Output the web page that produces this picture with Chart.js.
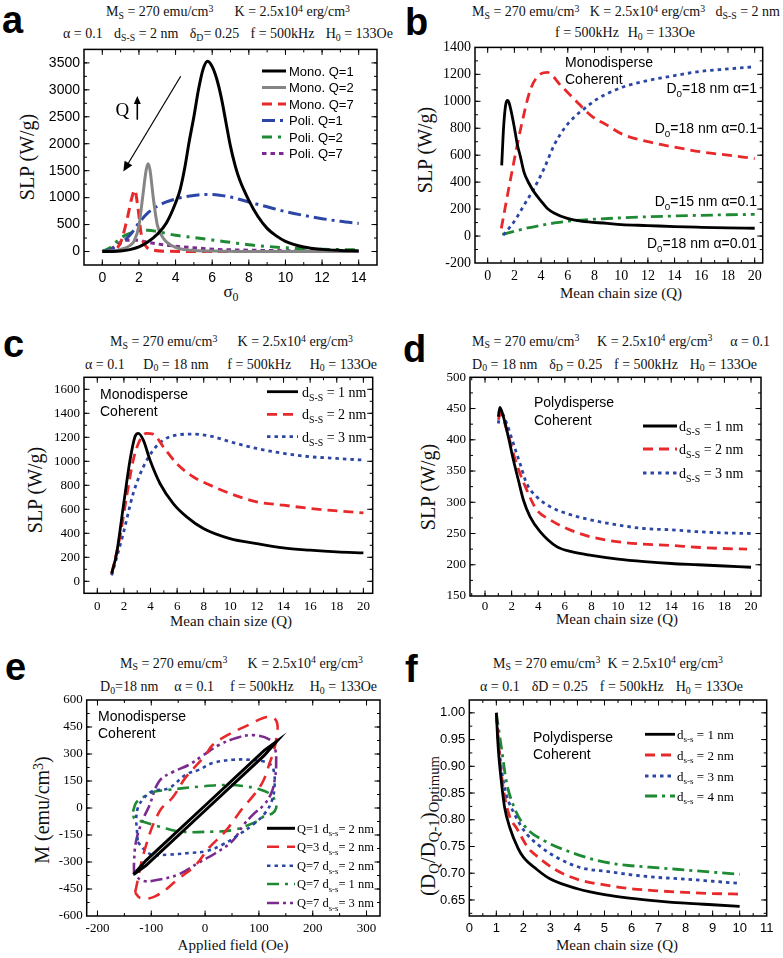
<!DOCTYPE html>
<html>
<head>
<meta charset="utf-8">
<script src="https://cdn.jsdelivr.net/npm/chart.js@4.4.1/dist/chart.umd.min.js"></script>
<style>
html, body { margin: 0; padding: 0; background: #fff; }
#page { position: relative; width: 783px; height: 958px; overflow: hidden; background: #fff; }
#page canvas { position: absolute; }
.t { position: absolute; font-family: 'Liberation Serif', 'Times New Roman', serif; font-size: 14px; line-height: 14px;
     white-space: nowrap; display: flex; justify-content: space-between; color: #111; }
.lt { position: absolute; font-family: 'Liberation Sans', Arial, sans-serif; font-weight: bold; font-size: 38px; line-height: 38px; color: #000; }
.ax { position: absolute; font-family: 'Liberation Serif', 'Times New Roman', serif; font-size: 15px; line-height: 15px;
      white-space: nowrap; transform: translate(-50%, -50%); color: #111; }
.ax.v { font-size: 20px; line-height: 20px; transform: translate(-50%, -50%) rotate(-90deg); }
sub, sup { font-size: 70%; line-height: 0; position: relative; vertical-align: baseline; }
sub { top: .3em; }
sup { top: -.45em; }
</style>
</head>
<body>
<div id="page">
  <!-- panel letters -->
  <div class="lt" style="left:2px;top:1px">a</div>
  <div class="lt" style="left:405px;top:3px">b</div>
  <div class="lt" style="left:3px;top:325px">c</div>
  <div class="lt" style="left:403px;top:330px">d</div>
  <div class="lt" style="left:5px;top:648px">e</div>
  <div class="lt" style="left:405px;top:650px">f</div>

  <!-- parameter lines above each panel -->
  <div class="t" style="left:106px;top:5px;width:244px"><span>M<sub>S</sub> = 270 emu/cm<sup>3</sup></span><span>K = 2.5x10<sup>4</sup> erg/cm<sup>3</sup></span></div>
  <div class="t" style="left:63px;top:27px;width:330px"><span>α = 0.1</span><span>d<sub>S-S</sub> = 2 nm</span><span>δ<sub>D</sub>= 0.25</span><span>f = 500kHz</span><span>H<sub>0</sub> = 133Oe</span></div>

  <div class="t" style="left:472px;top:5px;width:308px"><span>M<sub>S</sub> = 270 emu/cm<sup>3</sup></span><span>K = 2.5x10<sup>4</sup> erg/cm<sup>3</sup></span><span>d<sub>S-S</sub> = 2 nm</span></div>
  <div class="t" style="left:555px;top:26px;width:140px"><span>f = 500kHz</span><span>H<sub>0</sub> = 133Oe</span></div>

  <div class="t" style="left:110px;top:335px;width:243px"><span>M<sub>S</sub> = 270 emu/cm<sup>3</sup></span><span>K = 2.5x10<sup>4</sup> erg/cm<sup>3</sup></span></div>
  <div class="t" style="left:85px;top:357.5px;width:292px"><span>α = 0.1</span><span>D<sub>0</sub> = 18 nm</span><span>f = 500kHz</span><span>H<sub>0</sub> = 133Oe</span></div>

  <div class="t" style="left:472px;top:334.5px;width:298px"><span>M<sub>S</sub> = 270 emu/cm<sup>3</sup></span><span>K = 2.5x10<sup>4</sup> erg/cm<sup>3</sup></span><span>α = 0.1</span></div>
  <div class="t" style="left:472px;top:357.5px;width:285px"><span>D<sub>0</sub> = 18 nm</span><span>δ<sub>D</sub> = 0.25</span><span>f = 500kHz</span><span>H<sub>0</sub> = 133Oe</span></div>

  <div class="t" style="left:120px;top:656.5px;width:243px"><span>M<sub>S</sub> = 270 emu/cm<sup>3</sup></span><span>K = 2.5x10<sup>4</sup> erg/cm<sup>3</sup></span></div>
  <div class="t" style="left:100px;top:680px;width:277px"><span>D<sub>0</sub>=18 nm</span><span>α = 0.1</span><span>f = 500kHz</span><span>H<sub>0</sub> = 133Oe</span></div>

  <div class="t" style="left:493px;top:656.5px;width:230px"><span>M<sub>S</sub> = 270 emu/cm<sup>3</sup></span><span>K = 2.5x10<sup>4</sup> erg/cm<sup>3</sup></span></div>
  <div class="t" style="left:480px;top:680px;width:263px"><span>α = 0.1</span><span>δD = 0.25</span><span>f = 500kHz</span><span>H<sub>0</sub> = 133Oe</span></div>

  <!-- axis titles -->
  <div class="ax v" style="left:27px;top:157px">SLP (W/g)</div>
  <div class="ax" style="left:231px;top:291px;font-size:17px">σ<sub>0</sub></div>
  <div class="ax v" style="left:425px;top:150px">SLP (W/g)</div>
  <div class="ax" style="left:621px;top:293px">Mean chain size (Q)</div>
  <div class="ax v" style="left:35px;top:490px">SLP (W/g)</div>
  <div class="ax" style="left:231px;top:621px">Mean chain size (Q)</div>
  <div class="ax v" style="left:428px;top:487px">SLP (W/g)</div>
  <div class="ax" style="left:617px;top:619px">Mean chain size (Q)</div>
  <div class="ax v" style="left:42px;top:810px">M (emu/cm<sup>3</sup>)</div>
  <div class="ax" style="left:233px;top:945px">Applied field (Oe)</div>
  <div class="ax v" style="left:428px;top:826px;font-size:21px">(D<sub>Q</sub>/D<sub>Q-1</sub>)<sub>Optimum</sub></div>
  <div class="ax" style="left:617px;top:945px">Mean chain size (Q)</div>
</div>

<script>
// ---------- panel a : SLP vs sigma0 ----------
const aSigmaM1 = [0, 0.5, 1, 1.5, 2, 2.5, 3, 3.5, 4, 4.25, 4.5, 4.75, 5, 5.25, 5.5, 5.75, 6, 6.25, 6.5, 6.75, 7, 7.25, 7.5, 8, 8.5, 9, 9.5, 10, 11, 12, 13, 14];
const aMonoQ1  = [0, 2, 10, 35, 85, 180, 320, 530, 900, 1150, 1550, 2050, 2500, 3000, 3380, 3530, 3430, 3200, 2850, 2400, 1950, 1600, 1330, 950, 650, 430, 290, 190, 85, 40, 20, 10];
const aSigmaM2 = [0, 0.5, 1, 1.5, 1.75, 2, 2.2, 2.4, 2.5, 2.6, 2.8, 3, 3.25, 3.5, 4, 4.5, 5, 6, 8, 10, 14];
const aMonoQ2  = [0, 8, 40, 110, 200, 480, 1000, 1520, 1630, 1520, 950, 500, 290, 180, 75, 35, 20, 8, 2, 0, 0];
const aSigmaM7 = [0, 0.5, 0.8, 1, 1.13, 1.4, 1.6, 1.77, 1.95, 2.13, 2.4, 2.8, 3.5, 5, 8, 14];
const aMonoQ7  = [0, 10, 60, 170, 300, 670, 980, 1140, 800, 310, 90, 25, 5, 0, 0, 0];
const aSigmaP1 = [0, 0.5, 0.77, 1, 1.5, 2, 2.5, 3, 3.5, 4, 4.5, 5, 5.7, 6.4, 7, 8, 9, 10, 11, 12, 13, 14];
const aPoliQ1  = [0, 40, 86, 150, 300, 530, 720, 840, 920, 975, 1015, 1040, 1060, 1045, 1010, 920, 830, 740, 670, 610, 560, 520];
const aSigmaP2 = [0, 0.5, 0.77, 1, 1.5, 2, 2.5, 3, 3.5, 4, 5, 6, 7, 8, 9, 10, 11, 12, 13, 14];
const aPoliQ2  = [0, 90, 180, 250, 335, 390, 395, 370, 335, 300, 260, 215, 170, 125, 95, 70, 55, 42, 35, 30];
const aSigmaP7 = [0, 0.5, 0.77, 1, 1.3, 1.86, 2.5, 3.5, 4.4, 5, 6.2, 8, 10, 12, 14];
const aPoliQ7  = [0, 60, 117, 170, 210, 210, 170, 117, 86, 70, 40, 25, 15, 10, 8];
const aXTicks = [0, 2, 4, 6, 8, 10, 12, 14];
const aYTicks = [0, 500, 1000, 1500, 2000, 2500, 3000, 3500];

// ---------- panel b : SLP vs Q, monodisperse ----------
const bQa001   = [1.05, 1.2, 1.35, 1.5, 1.6, 1.72, 1.97, 2.22, 2.45, 2.72, 3.1, 3.47, 4, 4.47, 5, 5.97, 7, 8.97, 10, 12, 14, 16, 18, 20];
const bSlpa001 = [525, 820, 975, 1006, 990, 944, 821, 680, 590, 475, 390, 328, 260, 205, 170, 131, 110, 94, 85, 78, 70, 65, 61, 58];
const bQa01    = [1.02, 1.72, 2.47, 3.22, 3.97, 4.47, 5.47, 6.47, 7.72, 8.97, 10, 12, 14, 16, 18, 20];
const bSlpa01  = [57, 427, 796, 1092, 1203, 1215, 1117, 1018, 895, 821, 760, 700, 660, 625, 600, 575];
const bQa1     = [1.17, 1.97, 2.72, 3.47, 4.22, 4.97, 5.72, 6.47, 7.22, 8.22, 9.47, 10.47, 12, 14, 16, 18, 20];
const bSlpa1   = [7, 106, 229, 353, 500, 673, 796, 882, 944, 1018, 1080, 1117, 1154, 1191, 1223, 1240, 1257];
const bQd15    = [1.1, 2, 3, 4, 5, 6, 8, 10, 12, 14, 16, 18, 20];
const bSlpd15  = [12, 35, 60, 80, 97, 110, 125, 135, 143, 149, 154, 158, 161];
const bXTicks = [0, 2, 4, 6, 8, 10, 12, 14, 16, 18, 20];
const bYTicks = [-200, 0, 200, 400, 600, 800, 1000, 1200, 1400];

// ---------- panel c : SLP vs Q, monodisperse, d_S-S ----------
const cQ1   = [1.08, 1.45, 1.95, 2.46, 2.83, 3.08, 3.46, 3.96, 4.71, 5.71, 6.72, 7.97, 9.97, 11.98, 13.98, 15.99, 18, 20];
const cSlp1 = [64, 231, 620, 1010, 1205, 1233, 1177, 1010, 815, 648, 537, 440, 356, 314, 278, 259, 245, 237];
const cQ2   = [1.08, 1.7, 2.2, 2.7, 3.2, 3.71, 4.2, 4.96, 5.97, 7.2, 8.2, 9.97, 11.98, 14, 16, 18, 20];
const cSlp2 = [64, 370, 704, 1010, 1177, 1233, 1227, 1121, 982, 871, 815, 732, 662, 634, 607, 587, 570];
const cQ3   = [1.08, 1.95, 2.7, 3.46, 4.2, 4.96, 5.97, 7.2, 8.7, 9.97, 11.98, 14, 16, 18, 20];
const cSlp3 = [50, 398, 732, 954, 1093, 1177, 1219, 1227, 1205, 1163, 1107, 1066, 1038, 1024, 1010];
const cXTicks = [0, 2, 4, 6, 8, 10, 12, 14, 16, 18, 20];
const cYTicks = [0, 200, 400, 600, 800, 1000, 1200, 1400, 1600];

// ---------- panel d : SLP vs Q, polydisperse ----------
const dQ1   = [1, 1.12, 1.38, 1.75, 2.13, 2.5, 2.88, 3.38, 4.14, 5.39, 6.5, 8, 10, 12, 14, 16, 18, 20];
const dSlp1 = [437, 452, 437, 405, 368, 336, 304, 277, 253, 229, 221, 215, 209, 205, 202, 200, 198, 196];
const dQ2   = [1, 1.15, 1.63, 2.13, 2.63, 3.13, 3.88, 4.89, 6.14, 7.89, 9.9, 11.9, 13.9, 15.9, 17.9, 19.7];
const dSlp2 = [432, 442, 416, 378, 346, 320, 288, 272, 258, 245, 237, 233, 231, 228, 226, 225];
const dQ3   = [1, 1.15, 1.63, 2.13, 2.63, 3.13, 3.88, 4.89, 6.14, 7.89, 9.9, 11.9, 13.9, 15.9, 17.9, 20];
const dSlp3 = [426, 445, 426, 394, 362, 330, 309, 293, 282, 272, 264, 258, 256, 253, 251, 250];
const dXTicks = [0, 2, 4, 6, 8, 10, 12, 14, 16, 18, 20];
const dYTicks = [150, 200, 250, 300, 350, 400, 450, 500];

// ---------- panel e : hysteresis loops ----------
const eH_Q1d2 = [-133, -110, 0, 110, 133, 110, 0, -110, -133];
const eM_Q1d2 = [-370, -292, 14, 320, 370, 292, -14, -320, -370];
const eH_Q3d2 = [-130, -112, -85, -60, -36, 0, 14, 45, 83, 108, 125, 134, 133, 128, 120, 108, 90, 70, 38, 7, -17, -48, -92, -120, -130];
const eM_Q3d2 = [-470, -230, -20, 60, 170, 290, 350, 410, 465, 500, 505, 470, 400, 320, 250, 150, 70, 0, -128, -222, -315, -390, -490, -500, -470];
const eH_Q7d2 = [-125, -110, -98, -67, -30, 1, 32, 64, 90, 111, 124, 129, 128, 122, 107, 83, 52, 14, -11, -36, -67, -98, -115, -125, -128, -127, -125];
const eM_Q7d2 = [-190, -240, -259, -259, -250, -240, -204, -145, -90, -30, 40, 120, 200, 240, 260, 268, 268, 250, 213, 185, 111, 93, 50, 0, -60, -110, -190];
const eH_Q7d1 = [-134, -128, -115, -95, -70, -10, 40, 70, 100, 120, 130, 132, 125, 110, 95, 52, 15, -47, -84, -115, -131, -134];
const eM_Q7d1 = [-20, 30, 60, 90, 100, 119, 128, 122, 105, 80, 40, 0, -30, -45, -76, -122, -131, -131, -104, -76, -60, -20];
const eH_Q7d3 = [-132, -132, -128, -115, -104, -85, -60, -30, -5, 26, 58, 89, 120, 130, 132, 130, 124, 110, 89, 70, 52, 20, -10, -50, -90, -115, -132];
const eM_Q7d3 = [-370, -300, -180, -60, 10, 150, 200, 240, 290, 350, 389, 405, 380, 330, 240, 170, 90, 20, -37, -100, -180, -250, -300, -370, -400, -405, -370];
const eXTicks = [-200, -100, 0, 100, 200, 300];
const eYTicks = [-600, -450, -300, -150, 0, 150, 300, 450, 600];

// ---------- panel f : optimum diameter ratio ----------
const fQ1 = [1, 1.05, 1.1, 1.2, 1.3, 1.5, 1.8, 2, 2.5, 3, 4, 5, 6, 7, 8, 9, 10];
const fR1 = [1.0, 0.95, 0.915, 0.865, 0.825, 0.785, 0.747, 0.73, 0.707, 0.689, 0.671, 0.66, 0.653, 0.648, 0.644, 0.641, 0.638];
const fQ2 = [1, 1.1, 1.2, 1.34, 1.5, 1.74, 2.18, 2.43, 3.17, 4.03, 4.9, 6, 7, 8, 9, 10];
const fR2 = [1.0, 0.93, 0.88, 0.835, 0.805, 0.785, 0.747, 0.735, 0.707, 0.688, 0.679, 0.671, 0.667, 0.664, 0.662, 0.661];
const fQ3 = [1, 1.1, 1.2, 1.37, 1.68, 2.05, 2.55, 3.29, 4.15, 5.14, 6, 7, 8, 9, 10];
const fR3 = [1.0, 0.935, 0.89, 0.847, 0.81, 0.778, 0.753, 0.728, 0.71, 0.703, 0.697, 0.692, 0.689, 0.685, 0.681];
const fQ4 = [1, 1.19, 1.37, 1.62, 2.05, 2.8, 3.66, 4.65, 5.45, 6, 7, 8, 9, 10];
const fR4 = [1.0, 0.934, 0.872, 0.828, 0.788, 0.76, 0.741, 0.725, 0.717, 0.714, 0.71, 0.706, 0.702, 0.698];
const fXTicks = [0, 1, 2, 3, 4, 5, 6, 7, 8, 9, 10, 11];
const fYTicks = [0.65, 0.70, 0.75, 0.80, 0.85, 0.90, 0.95, 1.00];

// ---------- styles ----------
const SANS = "'Liberation Sans', Arial, sans-serif";
const SERIF = "'Liberation Serif', 'Times New Roman', serif";
const BLACK = '#000000', GRAY = '#858585', RED = '#e8292b', BLUE = '#2c46a6', GREEN = '#1f8a34', PURPLE = '#7b2a8e';
const DASH = [10, 6], DOT = [3.5, 4], DASHDOT = [13, 5, 3, 5], SHORT = [4.5, 4], DASHDOTDOT = [12, 4, 3, 4, 3, 4];

// page-pixel placement of each canvas and of its plot box
const LAYOUT = {
    a: { canvas: [30, 37, 362, 253], area: [84, 49, 377, 265] },
    b: { canvas: [432, 35, 346, 253], area: [475, 46.7, 762.7, 263] },
    c: { canvas: [40, 365, 348, 253], area: [84, 377.3, 372.7, 593.3] },
    d: { canvas: [430, 365, 348, 255], area: [470, 377.3, 761, 596] },
    e: { canvas: [40, 688, 352, 252], area: [86.7, 700, 380, 916] },
    f: { canvas: [425, 688, 356, 252], area: [469.3, 700, 766.7, 916] }
};

function series(xs, ys, color, dash, width, extra) {
    return Object.assign({
        data: xs.map((x, i) => ({ x: x, y: ys[i] })),
        borderColor: color,
        borderDash: dash,
        borderWidth: width || 2.8,
        pointRadius: 0,
        fill: false,
        cubicInterpolationMode: 'monotone'
    }, extra || {});
}

// text with sub/superscript pieces: parts = ['d', ['S-S','sub'], ' = 1 nm']
function drawRich(ctx, parts, x, y, size, family, align) {
    const segs = parts.map(p => Array.isArray(p) ? { t: p[0], k: p[1] } : { t: p, k: '' });
    let w = 0;
    segs.forEach(s => {
        s.f = (s.k ? size * 0.7 : size) + 'px ' + family;
        ctx.font = s.f;
        s.w = ctx.measureText(s.t).width;
        w += s.w;
    });
    let cx = align === 'right' ? x - w : (align === 'center' ? x - w / 2 : x);
    ctx.textAlign = 'left';
    ctx.textBaseline = 'alphabetic';
    segs.forEach(s => {
        ctx.font = s.f;
        const dy = s.k === 'sub' ? size * 0.28 : (s.k === 'sup' ? -size * 0.4 : 0);
        ctx.fillText(s.t, cx, y + dy);
        cx += s.w;
    });
}

function stepValues(scale, step) {
    const out = [];
    for (let v = Math.ceil(scale.min / step - 1e-9) * step; v <= scale.max + 1e-9; v += step) out.push(+v.toFixed(6));
    return out;
}

// frame, inward ticks on all sides, legend, notes, arrows
const decoPlugin = {
    id: 'deco',
    afterDatasetsDraw(chart, args, o) {
        const ctx = chart.ctx, a = chart.chartArea;
        const sx = chart.scales.x, sy = chart.scales.y;
        const ox = o.offset[0], oy = o.offset[1];
        ctx.save();
        ctx.setLineDash([]);
        ctx.strokeStyle = '#000';
        ctx.fillStyle = '#000';
        ctx.lineWidth = 1;
        ctx.beginPath();
        const xm = (vals, len) => vals.forEach(v => {
            const p = sx.getPixelForValue(v);
            if (p < a.left + 1 || p > a.right - 1) return;
            ctx.moveTo(p, a.bottom); ctx.lineTo(p, a.bottom - len);
            ctx.moveTo(p, a.top); ctx.lineTo(p, a.top + len);
        });
        const ym = (vals, len) => vals.forEach(v => {
            const p = sy.getPixelForValue(v);
            if (p < a.top + 1 || p > a.bottom - 1) return;
            ctx.moveTo(a.left, p); ctx.lineTo(a.left + len, p);
            ctx.moveTo(a.right, p); ctx.lineTo(a.right - len, p);
        });
        xm(stepValues(sx, o.xMinor), 3);
        ym(stepValues(sy, o.yMinor), 3);
        xm(sx.ticks.map(t => t.value), 5.5);
        ym(sy.ticks.map(t => t.value), 5.5);
        ctx.stroke();
        ctx.lineWidth = 1.5;
        ctx.strokeRect(a.left, a.top, a.right - a.left, a.bottom - a.top);

        if (o.legend) {
            const L = o.legend;
            L.rows.forEach(r => {
                const ds = chart.data.datasets[r.ds];
                const y = r.y - oy;
                ctx.strokeStyle = ds.borderColor;
                ctx.lineWidth = ds.borderWidth;
                ctx.setLineDash(ds.borderDash || []);
                ctx.beginPath();
                ctx.moveTo(L.x0 - ox, y);
                ctx.lineTo(L.x1 - ox, y);
                ctx.stroke();
                ctx.setLineDash([]);
                ctx.fillStyle = '#000';
                drawRich(ctx, r.parts, L.tx - ox, y + L.size * 0.35, L.size, L.family, 'left');
            });
        }
        (o.notes || []).forEach(n => {
            ctx.fillStyle = '#000';
            drawRich(ctx, n.parts, n.x - ox, n.y - oy, n.size, n.family, n.align);
        });
        (o.arrows || []).forEach(ar => {
            const x0 = ar.x0 - ox, y0 = ar.y0 - oy, x1 = ar.x1 - ox, y1 = ar.y1 - oy;
            const ang = Math.atan2(y1 - y0, x1 - x0);
            ctx.strokeStyle = '#000';
            ctx.lineWidth = ar.w;
            ctx.setLineDash([]);
            ctx.beginPath();
            ctx.moveTo(x0, y0);
            ctx.lineTo(x1 - Math.cos(ang) * ar.head * 0.8, y1 - Math.sin(ang) * ar.head * 0.8);
            ctx.stroke();
            ctx.beginPath();
            ctx.moveTo(x1, y1);
            ctx.lineTo(x1 - Math.cos(ang) * ar.head + Math.sin(ang) * ar.half, y1 - Math.sin(ang) * ar.head - Math.cos(ang) * ar.half);
            ctx.lineTo(x1 - Math.cos(ang) * ar.head - Math.sin(ang) * ar.half, y1 - Math.sin(ang) * ar.head + Math.cos(ang) * ar.half);
            ctx.closePath();
            ctx.fill();
        });
        ctx.restore();
    }
};

function axis(s, dir, size) {
    return {
        type: 'linear',
        min: s.min,
        max: s.max,
        grid: { display: false, drawTicks: false },
        border: { display: false },
        ticks: {
            autoSkip: false,
            maxRotation: 0,
            padding: s.pad !== undefined ? s.pad : (dir === 'x' ? 5 : 4),
            color: '#000',
            font: s.font,
            callback: s.fmt || (v => String(v))
        },
        afterBuildTicks: sc => { sc.ticks = s.ticks.map(v => ({ value: v })); },
        afterFit: sc => { if (dir === 'x') sc.height = size; else sc.width = size; }
    };
}

function makeChart(key, datasets, sx, sy, deco) {
    const L = LAYOUT[key];
    const cl = L.canvas[0], ct = L.canvas[1], cw = L.canvas[2], ch = L.canvas[3];
    const al = L.area[0], at = L.area[1], ar = L.area[2], ab = L.area[3];
    const cv = document.createElement('canvas');
    cv.width = cw;
    cv.height = ch;
    cv.style.left = cl + 'px';
    cv.style.top = ct + 'px';
    document.getElementById('page').appendChild(cv);
    return new Chart(cv.getContext('2d'), {
        type: 'line',
        data: { datasets: datasets },
        options: {
            responsive: false,
            animation: false,
            devicePixelRatio: 1,
            layout: { padding: { left: 0, top: at - ct, right: cl + cw - ar, bottom: 0 } },
            plugins: {
                legend: { display: false },
                tooltip: { enabled: false },
                deco: Object.assign({ offset: [cl, ct] }, deco)
            },
            elements: { point: { radius: 0 }, line: { borderCapStyle: 'butt' } },
            scales: {
                x: axis(sx, 'x', ct + ch - ab),
                y: axis(sy, 'y', al - cl)
            }
        },
        plugins: [decoPlugin]
    });
}

const sansTick = { family: SANS, size: 13 };
const serifTick = { family: SERIF, size: 13 };

// ---- a ----
makeChart('a', [
    series(aSigmaM1, aMonoQ1, BLACK, [], 3),
    series(aSigmaM2, aMonoQ2, GRAY, [], 3),
    series(aSigmaM7, aMonoQ7, RED, DASH, 3),
    series(aSigmaP1, aPoliQ1, BLUE, DASHDOT, 3),
    series(aSigmaP2, aPoliQ2, GREEN, [10, 6, 3, 6], 3),
    series(aSigmaP7, aPoliQ7, PURPLE, SHORT, 3)
], { min: -1, max: 15, ticks: aXTicks, font: { family: SANS, size: 14 } },
   { min: -250, max: 3750, ticks: aYTicks, font: { family: SANS, size: 14 } },
   {
       xMinor: 1, yMinor: 250,
       legend: {
           x0: 262, x1: 286, tx: 289, size: 13, family: SANS,
           rows: [
               { y: 71, ds: 0, parts: ['Mono. Q=1'] },
               { y: 87.5, ds: 1, parts: ['Mono. Q=2'] },
               { y: 104, ds: 2, parts: ['Mono. Q=7'] },
               { y: 120.5, ds: 3, parts: ['Poli. Q=1'] },
               { y: 137, ds: 4, parts: ['Poli. Q=2'] },
               { y: 153.5, ds: 5, parts: ['Poli. Q=7'] }
           ]
       },
       notes: [{ x: 115.5, y: 116, parts: ['Q'], size: 19, family: SERIF, align: 'left' }],
       arrows: [
           { x0: 180.7, y0: 76.3, x1: 123.3, y1: 171.6, w: 1.2, head: 10, half: 4.5 },
           { x0: 137.3, y0: 119.7, x1: 137.3, y1: 96, w: 1.6, head: 8, half: 3.5 }
       ]
   });

// ---- b ----
makeChart('b', [
    series(bQa001, bSlpa001, BLACK, [], 2.8),
    series(bQa01, bSlpa01, RED, DASH, 2.8),
    series(bQa1, bSlpa1, BLUE, DOT, 2.8),
    series(bQd15, bSlpd15, GREEN, [12, 5, 3, 5], 2.8)
], { min: -0.95, max: 20.6, ticks: bXTicks, font: { family: SERIF, size: 14 } },
   { min: -200, max: 1400, ticks: bYTicks, font: { family: SERIF, size: 14 } },
   {
       xMinor: 1, yMinor: 100,
       notes: [
           { x: 565, y: 66.5, parts: ['Monodisperse'], size: 14, family: SANS, align: 'left' },
           { x: 565, y: 83.5, parts: ['Coherent'], size: 14, family: SANS, align: 'left' },
           { x: 757, y: 93, parts: ['D', ['0', 'sub'], '=18 nm α=1'], size: 14, family: SANS, align: 'right' },
           { x: 757, y: 133, parts: ['D', ['0', 'sub'], '=18 nm α=0.1'], size: 14, family: SANS, align: 'right' },
           { x: 757, y: 206, parts: ['D', ['0', 'sub'], '=15 nm α=0.1'], size: 14, family: SANS, align: 'right' },
           { x: 757, y: 248, parts: ['D', ['0', 'sub'], '=18 nm α=0.01'], size: 14, family: SANS, align: 'right' }
       ]
   });

// ---- c ----
makeChart('c', [
    series(cQ1, cSlp1, BLACK, [], 2.8),
    series(cQ2, cSlp2, RED, DASH, 2.8),
    series(cQ3, cSlp3, BLUE, DOT, 2.8)
], { min: -1, max: 20.7, ticks: cXTicks, font: serifTick },
   { min: -100, max: 1700, ticks: cYTicks, font: serifTick },
   {
       xMinor: 1, yMinor: 100,
       legend: {
           x0: 267, x1: 298, tx: 302, size: 14, family: SERIF,
           rows: [
               { y: 391.7, ds: 0, parts: ['d', ['S-S', 'sub'], ' = 1 nm'] },
               { y: 414.3, ds: 1, parts: ['d', ['S-S', 'sub'], ' = 2 nm'] },
               { y: 436.7, ds: 2, parts: ['d', ['S-S', 'sub'], ' = 3 nm'] }
           ]
       },
       notes: [
           { x: 100, y: 398.5, parts: ['Monodisperse'], size: 14, family: SANS, align: 'left' },
           { x: 100, y: 415.5, parts: ['Coherent'], size: 14, family: SANS, align: 'left' }
       ]
   });

// ---- d ----
makeChart('d', [
    series(dQ1, dSlp1, BLACK, [], 2.8),
    series(dQ2, dSlp2, RED, DASH, 2.8),
    series(dQ3, dSlp3, BLUE, DOT, 2.8)
], { min: -1.13, max: 20.75, ticks: dXTicks, font: serifTick, pad: 3 },
   { min: 150, max: 500, ticks: dYTicks, font: serifTick },
   {
       xMinor: 1, yMinor: 25,
       legend: {
           x0: 643, x1: 677, tx: 679, size: 14, family: SERIF,
           rows: [
               { y: 426, ds: 0, parts: ['d', ['S-S', 'sub'], ' = 1 nm'] },
               { y: 449, ds: 1, parts: ['d', ['S-S', 'sub'], ' = 2 nm'] },
               { y: 473, ds: 2, parts: ['d', ['S-S', 'sub'], ' = 3 nm'] }
           ]
       },
       notes: [
           { x: 534, y: 406.5, parts: ['Polydisperse'], size: 14, family: SANS, align: 'left' },
           { x: 534, y: 424.5, parts: ['Coherent'], size: 14, family: SANS, align: 'left' }
       ]
   });

// ---- e ----
makeChart('e', [
    series(eH_Q1d2, eM_Q1d2, BLACK, [], 3, { cubicInterpolationMode: 'default', tension: 0 }),
    series(eH_Q3d2, eM_Q3d2, RED, [12, 8], 2.6, { cubicInterpolationMode: 'default', tension: 0.4 }),
    series(eH_Q7d2, eM_Q7d2, BLUE, DOT, 2.6, { cubicInterpolationMode: 'default', tension: 0.4 }),
    series(eH_Q7d1, eM_Q7d1, GREEN, [12, 6, 3, 6], 2.6, { cubicInterpolationMode: 'default', tension: 0.4 }),
    series(eH_Q7d3, eM_Q7d3, PURPLE, DASHDOTDOT, 2.6, { cubicInterpolationMode: 'default', tension: 0.4 })
], { min: -220, max: 325, ticks: eXTicks, font: serifTick },
   { min: -600, max: 600, ticks: eYTicks, font: serifTick },
   {
       xMinor: 50, yMinor: 75,
       legend: {
           x0: 267, x1: 295, tx: 297, size: 12.5, family: SERIF,
           rows: [
               { y: 828.3, ds: 0, parts: ['Q=1 d', ['s-s', 'sub'], '= 2 nm'] },
               { y: 846.7, ds: 1, parts: ['Q=3 d', ['s-s', 'sub'], '= 2 nm'] },
               { y: 865.7, ds: 2, parts: ['Q=7 d', ['s-s', 'sub'], '= 2 nm'] },
               { y: 884, ds: 3, parts: ['Q=7 d', ['s-s', 'sub'], '= 1 nm'] },
               { y: 903, ds: 4, parts: ['Q=7 d', ['s-s', 'sub'], '= 3 nm'] }
           ]
       },
       notes: [
           { x: 98, y: 720.5, parts: ['Monodisperse'], size: 14, family: SANS, align: 'left' },
           { x: 98, y: 737.5, parts: ['Coherent'], size: 14, family: SANS, align: 'left' }
       ]
   });

// ---- f ----
makeChart('f', [
    series(fQ1, fR1, BLACK, [], 2.8),
    series(fQ2, fR2, RED, DASH, 2.8),
    series(fQ3, fR3, BLUE, DOT, 2.8),
    series(fQ4, fR4, GREEN, [12, 5, 3, 5], 2.8)
], { min: 0, max: 11, ticks: fXTicks, font: sansTick },
   { min: 0.62, max: 1.024, ticks: fYTicks, font: sansTick, fmt: v => v.toFixed(2) },
   {
       xMinor: 0.5, yMinor: 0.025,
       legend: {
           x0: 645, x1: 675, tx: 677, size: 13, family: SERIF,
           rows: [
               { y: 734.3, ds: 0, parts: ['d', ['s-s', 'sub'], ' = 1 nm'] },
               { y: 755, ds: 1, parts: ['d', ['s-s', 'sub'], ' = 2 nm'] },
               { y: 776, ds: 2, parts: ['d', ['s-s', 'sub'], ' = 3 nm'] },
               { y: 796, ds: 3, parts: ['d', ['s-s', 'sub'], ' = 4 nm'] }
           ]
       },
       notes: [
           { x: 533, y: 741.5, parts: ['Polydisperse'], size: 14, family: SANS, align: 'left' },
           { x: 533, y: 758.5, parts: ['Coherent'], size: 14, family: SANS, align: 'left' }
       ]
   });
</script>
</body>
</html>
